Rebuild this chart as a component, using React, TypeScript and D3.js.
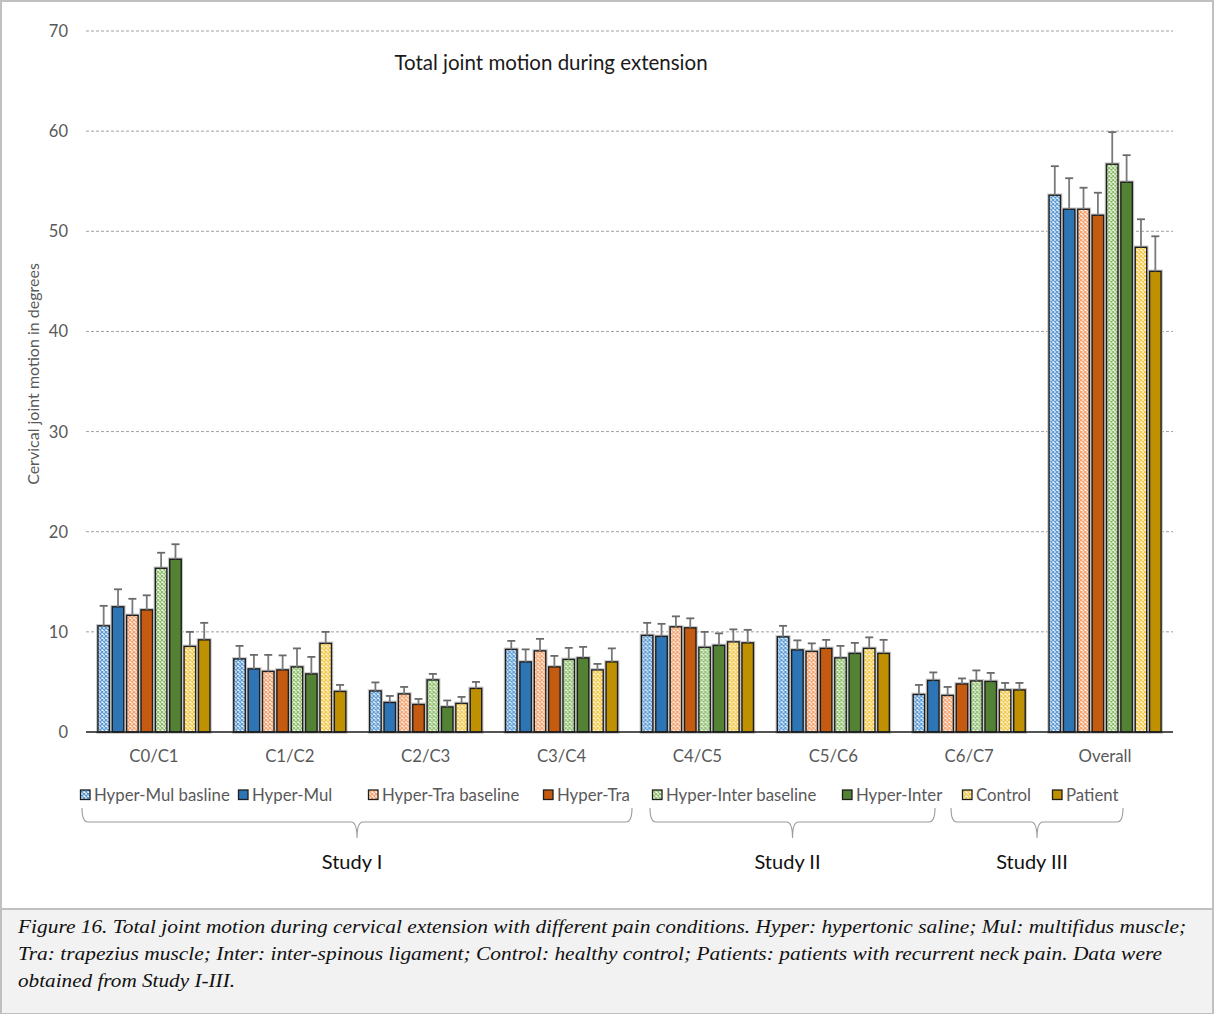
import React from "react";
import * as d3 from "d3";

const categories = ["C0/C1", "C1/C2", "C2/C3", "C3/C4", "C4/C5", "C5/C6", "C6/C7", "Overall"];
const seriesNames = [
  "Hyper-Mul basline",
  "Hyper-Mul",
  "Hyper-Tra baseline",
  "Hyper-Tra",
  "Hyper-Inter baseline",
  "Hyper-Inter",
  "Control",
  "Patient",
];
const seriesColors = ["#5b9bd5", "#2e75b6", "#f4a06a", "#c55a11", "#8fbf6e", "#548235", "#f2c744", "#bf9000"];
const seriesPatterned = [true, false, true, false, true, false, true, false];

// means per category, one array per series
const hyperMulBase = [10.6, 7.3, 4.1, 8.25, 9.65, 9.5, 3.75, 53.6];
const hyperMul = [12.5, 6.3, 2.95, 7.0, 9.55, 8.2, 5.15, 52.2];
const hyperTraBase = [11.65, 6.05, 3.8, 8.1, 10.5, 8.05, 3.65, 52.2];
const hyperTra = [12.2, 6.2, 2.75, 6.5, 10.4, 8.35, 4.8, 51.6];
const hyperInterBase = [16.35, 6.5, 5.2, 7.25, 8.45, 7.4, 5.1, 56.7];
const hyperInter = [17.25, 5.8, 2.5, 7.4, 8.65, 7.85, 5.05, 54.9];
const control = [8.55, 8.85, 2.85, 6.2, 9.0, 8.35, 4.2, 48.4];
const patient = [9.2, 4.05, 4.35, 7.0, 8.9, 7.85, 4.2, 46.0];

// upper error bar ends
const hyperMulBaseErr = [12.6, 8.6, 4.95, 9.1, 10.9, 10.6, 4.7, 56.5];
const hyperMulErr = [14.25, 7.7, 3.6, 8.25, 10.8, 9.15, 5.95, 55.3];
const hyperTraBaseErr = [13.3, 7.7, 4.5, 9.3, 11.55, 8.85, 4.5, 54.35];
const hyperTraErr = [13.65, 7.65, 3.3, 7.6, 11.35, 9.2, 5.35, 53.85];
const hyperInterBaseErr = [17.9, 8.35, 5.8, 8.4, 10.0, 8.6, 6.15, 59.9];
const hyperInterErr = [18.75, 7.5, 3.15, 8.5, 9.85, 8.9, 5.9, 57.6];
const controlErr = [10.0, 10.0, 3.5, 6.8, 10.25, 9.45, 4.9, 51.2];
const patientErr = [10.9, 4.7, 5.0, 8.35, 10.2, 9.2, 4.9, 49.5];

const yTicks = [0, 10, 20, 30, 40, 50, 60, 70];

const studies = [
  { label: "Study I", from: 82, to: 632 },
  { label: "Study II", from: 650, to: 935 },
  { label: "Study III", from: 951, to: 1123 },
];

const captionLines = [
  "Figure 16. Total joint motion during cervical extension with different pain conditions. Hyper: hypertonic saline; Mul: multifidus muscle;",
  "Tra: trapezius muscle; Inter: inter-spinous ligament; Control: healthy control; Patients: patients with recurrent neck pain. Data were",
  "obtained from Study I-III.",
];
const captionWidths = [1168, 1144, 217];

const legendX = [80, 238, 368, 543, 652, 842, 962, 1052];

const allValues = [hyperMulBase, hyperMul, hyperTraBase, hyperTra, hyperInterBase, hyperInter, control, patient];
const allErrs = [hyperMulBaseErr, hyperMulErr, hyperTraBaseErr, hyperTraErr, hyperInterBaseErr, hyperInterErr, controlErr, patientErr];

const W = 1215;
const H = 1014;
const FONT = "Lato, 'Open Sans', sans-serif";

function bracePath(x0: number, x1: number, yTop: number, yMid: number, yTip: number) {
  const xm = (x0 + x1) / 2;
  const r = 6;
  return [
    `M${x0},${yTop}`,
    `Q${x0},${yMid} ${x0 + r},${yMid}`,
    `L${xm - r},${yMid}`,
    `Q${xm},${yMid} ${xm},${yTip}`,
    `Q${xm},${yMid} ${xm + r},${yMid}`,
    `L${x1 - r},${yMid}`,
    `Q${x1},${yMid} ${x1},${yTop}`,
  ].join(" ");
}

export default function App() {
  const left = 86;
  const right = 1173;
  const y = d3.scaleLinear().domain([0, 70]).range([732, 31]);
  const x0 = d3.scaleBand<string>().domain(categories).range([left, right]).padding(0);
  const x1 = d3
    .scaleBand<string>()
    .domain(seriesNames)
    .range([0, x0.bandwidth()])
    .paddingInner(0.2)
    .paddingOuter(0.83);

  return (
    <svg
      width={W}
      height={H}
      viewBox={`0 0 ${W} ${H}`}
      style={{ position: "absolute", left: 0, top: 0, background: "#fff" }}
    >
      <defs>
        {seriesNames.map((s, i) => (
          <pattern key={s} id={`pat${i}`} width={4} height={4} patternUnits="userSpaceOnUse">
            <rect width={4} height={4} fill="#fff" />
            <path d="M0,0 L4,4 M4,0 L0,4" stroke={seriesColors[i]} strokeWidth={1.3} />
          </pattern>
        ))}
      </defs>

      {/* outer frame */}
      <rect x={1} y={1} width={W - 3} height={H - 2} fill="#fff" stroke="#c0c0c0" strokeWidth={2} />
      {/* caption box */}
      <rect x={1} y={909} width={W - 3} height={H - 909} fill="#f2f2f2" stroke="#c0c0c0" strokeWidth={2} />

      {/* gridlines */}
      {yTicks
        .filter((t) => t > 0)
        .map((t) => (
          <line
            key={t}
            x1={left}
            x2={right}
            y1={y(t)}
            y2={y(t)}
            stroke="#a0a0a0"
            strokeWidth={1}
            strokeDasharray="3,2"
          />
        ))}

      {/* y tick labels */}
      {yTicks.map((t) => (
        <text
          key={t}
          x={68}
          y={y(t) + 6}
          textAnchor="end"
          fontFamily={FONT}
          fontSize={16.5}
          fill="#595959"
        >
          {t}
        </text>
      ))}

      {/* y axis title */}
      <text
        transform={`translate(39,${374}) rotate(-90)`}
        textAnchor="middle"
        fontFamily={FONT}
        fontSize={16}
        fill="#595959"
      >
        Cervical joint motion in degrees
      </text>

      {/* chart title */}
      <text x={551} y={70} textAnchor="middle" fontFamily={FONT} fontSize={20.5} fill="#1a1a1a">
        Total joint motion during extension
      </text>

      {/* bars */}
      {categories.map((c, ci) => (
        <g key={c} transform={`translate(${x0(c)},0)`}>
          {seriesNames.map((s, si) => {
            const v = allValues[si][ci];
            const e = allErrs[si][ci];
            const bx = x1(s)!;
            const bw = x1.bandwidth();
            const cx = bx + bw / 2;
            return (
              <g key={s}>
                <rect
                  x={bx}
                  y={y(v)}
                  width={bw}
                  height={y(0) - y(v)}
                  fill="none"
                  stroke="#c8c8c8"
                  strokeWidth={3.6}
                />
                <rect
                  x={bx}
                  y={y(v)}
                  width={bw}
                  height={y(0) - y(v)}
                  fill={seriesPatterned[si] ? `url(#pat${si})` : seriesColors[si]}
                  stroke="#1e1e1e"
                  strokeWidth={1.4}
                />
                <line x1={cx} x2={cx} y1={y(v)} y2={y(e)} stroke="#7a7a7a" strokeWidth={1.8} />
                <line x1={cx - 4} x2={cx + 4} y1={y(e)} y2={y(e)} stroke="#6a6a6a" strokeWidth={1.8} />
              </g>
            );
          })}
        </g>
      ))}

      {/* x axis line */}
      <line x1={left} x2={right} y1={y(0)} y2={y(0)} stroke="#1a1a1a" strokeWidth={1.6} />

      {/* category labels */}
      {categories.map((c) => (
        <text
          key={c}
          x={x0(c)! + x0.bandwidth() / 2}
          y={762}
          textAnchor="middle"
          fontFamily={FONT}
          fontSize={16.8}
          fill="#595959"
        >
          {c}
        </text>
      ))}

      {/* legend */}
      {seriesNames.map((s, i) => (
        <g key={s} transform={`translate(${legendX[i]},790)`}>
          <rect
            x={0.5}
            y={0}
            width={9.5}
            height={9.5}
            fill={seriesPatterned[i] ? `url(#pat${i})` : seriesColors[i]}
            stroke="#1e1e1e"
            strokeWidth={1.3}
          />
          <text x={14} y={11} fontFamily={FONT} fontSize={16.8} fill="#595959">
            {s}
          </text>
        </g>
      ))}

      {/* study braces */}
      {studies.map((st) => (
        <g key={st.label}>
          <path d={bracePath(st.from, st.to, 808, 822, 838)} fill="none" stroke="#9a9a9a" strokeWidth={1.1} />
          <text
            x={(st.from + st.to) / 2 - 5}
            y={869}
            textAnchor="middle"
            fontFamily={FONT}
            fontSize={20}
            fill="#111"
          >
            {st.label}
          </text>
        </g>
      ))}

      {/* caption */}
      {captionLines.map((line, i) => (
        <text
          key={i}
          x={18}
          y={933 + i * 27}
          fontFamily="'Liberation Serif', 'Times New Roman', serif"
          fontStyle="italic"
          fontSize={18}
          fill="#111"
          textLength={captionWidths[i]}
          lengthAdjust="spacingAndGlyphs"
        >
          {line}
        </text>
      ))}
    </svg>
  );
}
